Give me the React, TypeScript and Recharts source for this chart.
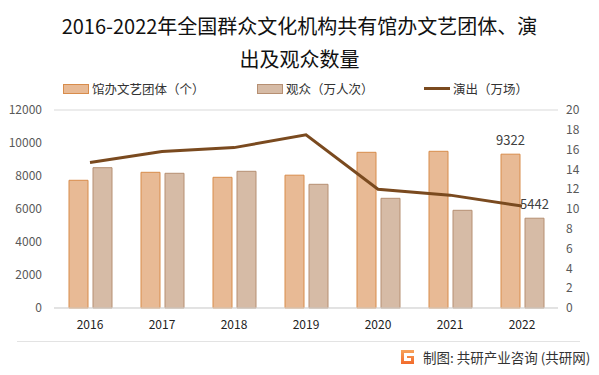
import * as React from 'react';
import {
  Bar,
  CartesianGrid,
  ComposedChart,
  LabelList,
  Line,
  XAxis,
  YAxis,
} from 'recharts';

const years = ['2016', '2017', '2018', '2019', '2020', '2021', '2022'];
const troupes = [7740, 8224, 7921, 8050, 9436, 9497, 9322];
const audience = [8503, 8164, 8285, 7497, 6648, 5921, 5442];
const shows = [14.7, 15.8, 16.2, 17.5, 12.0, 11.4, 10.3];

const leftTicks = [0, 2000, 4000, 6000, 8000, 10000, 12000];
const rightTicks = [0, 2, 4, 6, 8, 10, 12, 14, 16, 18, 20];

const data = years.map((year, i) => ({
  year,
  troupes: troupes[i],
  audience: audience[i],
  shows: shows[i],
}));

const FONT = '"Noto Sans CJK SC", "Noto Sans", sans-serif';
const TROUPE_FILL = '#e8ba95';
const TROUPE_STROKE = '#d88c4b';
const AUDIENCE_FILL = '#d6bba6';
const AUDIENCE_STROKE = '#b68f72';
const LINE_COLOR = '#7a4a1f';

function LastLabel(props: any) {
  const { x, y, width, value, index } = props;
  if (index !== years.length - 1) return null;
  return (
    <text
      x={x + width / 2}
      y={y - 13}
      textAnchor="middle"
      dominantBaseline="middle"
      fontSize={13}
      fill="#404040"
      fontFamily={FONT}
    >
      {value}
    </text>
  );
}

function ChartLegend() {
  const item: React.CSSProperties = { position: 'absolute', top: 0, display: 'flex', alignItems: 'center' };
  const text: React.CSSProperties = { fontSize: 12.5, color: '#333', marginLeft: 3, whiteSpace: 'nowrap' };
  return (
    <div style={{ position: 'absolute', left: 0, top: 79, width: 599, height: 18 }}>
      <div style={{ ...item, left: 63 }}>
        <span style={{ width: 24, height: 8, background: TROUPE_FILL, border: `1px solid ${TROUPE_STROKE}` }} />
        <span style={text}>馆办文艺团体（个）</span>
      </div>
      <div style={{ ...item, left: 257 }}>
        <span style={{ width: 24, height: 8, background: AUDIENCE_FILL, border: `1px solid ${AUDIENCE_STROKE}` }} />
        <span style={text}>观众（万人次）</span>
      </div>
      <div style={{ ...item, left: 424 }}>
        <span style={{ width: 26, height: 3, background: LINE_COLOR }} />
        <span style={text}>演出（万场）</span>
      </div>
    </div>
  );
}

export default function App() {
  return (
    <div
      style={{
        position: 'absolute',
        left: 0,
        top: 0,
        width: 599,
        height: 375,
        background: '#fff',
        fontFamily: FONT,
        overflow: 'hidden',
      }}
    >
      <div
        style={{
          position: 'absolute',
          top: 9,
          left: 0,
          width: 599,
          textAlign: 'center',
          fontSize: 20,
          lineHeight: '33px',
          color: '#111',
        }}
      >
        2016-2022年全国群众文化机构共有馆办文艺团体、演
        <br />
        出及观众数量
      </div>
      <ChartLegend />
      <ComposedChart
        width={599}
        height={375}
        data={data}
        margin={{ top: 110, right: 11, bottom: 37, left: 10 }}
        barGap={5}
        barSize={19}
      >
        <CartesianGrid vertical={false} stroke="#d9d9d9" />
        <XAxis
          dataKey="year"
          axisLine={{ stroke: '#d9d9d9' }}
          tickLine={false}
          tickSize={0}
          tickMargin={12}
          height={30}
          tick={{ fontSize: 12, fill: '#222', fontFamily: FONT }}
        />
        <YAxis
          yAxisId="left"
          domain={[0, 12000]}
          ticks={leftTicks}
          interval={0}
          axisLine={false}
          tickLine={false}
          tickSize={0}
          tickMargin={12}
          width={44}
          tick={{ fontSize: 12, fill: '#595959', fontFamily: FONT }}
        />
        <YAxis
          yAxisId="right"
          orientation="right"
          domain={[0, 20]}
          ticks={rightTicks}
          interval={0}
          axisLine={false}
          tickLine={false}
          tickSize={0}
          tickMargin={8}
          width={30}
          tick={{ fontSize: 12, fill: '#595959', fontFamily: FONT, textAnchor: 'start' }}
        />
        <Bar
          yAxisId="left"
          dataKey="troupes"
          name="馆办文艺团体（个）"
          fill={TROUPE_FILL}
          stroke={TROUPE_STROKE}
          strokeWidth={1}
          isAnimationActive={false}
        >
          <LabelList dataKey="troupes" content={LastLabel} />
        </Bar>
        <Bar
          yAxisId="left"
          dataKey="audience"
          name="观众（万人次）"
          fill={AUDIENCE_FILL}
          stroke={AUDIENCE_STROKE}
          strokeWidth={1}
          isAnimationActive={false}
        >
          <LabelList dataKey="audience" content={LastLabel} />
        </Bar>
        <Line
          yAxisId="right"
          dataKey="shows"
          name="演出（万场）"
          type="linear"
          stroke={LINE_COLOR}
          strokeWidth={3}
          dot={false}
          activeDot={false}
          isAnimationActive={false}
        />
      </ComposedChart>
      <div style={{ position: 'absolute', left: 17, top: 341, width: 563, height: 1, background: '#e3e3e3' }} />
      <div
        style={{
          position: 'absolute',
          left: 400,
          top: 347,
          display: 'flex',
          alignItems: 'center',
          fontSize: 13.5,
          color: '#333',
          whiteSpace: 'nowrap',
        }}
      >
        <svg width={15} height={16} viewBox="0 0 15 16" style={{ marginRight: 8 }}>
          <defs>
            <linearGradient id="logoGrad" x1="0" y1="0" x2="0" y2="1">
              <stop offset="0" stopColor="#f7a35c" />
              <stop offset="1" stopColor="#f26b2b" />
            </linearGradient>
          </defs>
          <path d="M1 1 H14 V4 H4 V12 H11 V9 H7 V7 H14 V15 H1 Z" fill="url(#logoGrad)" />
        </svg>
        <span>制图: 共研产业咨询 (共研网)</span>
      </div>
    </div>
  );
}
